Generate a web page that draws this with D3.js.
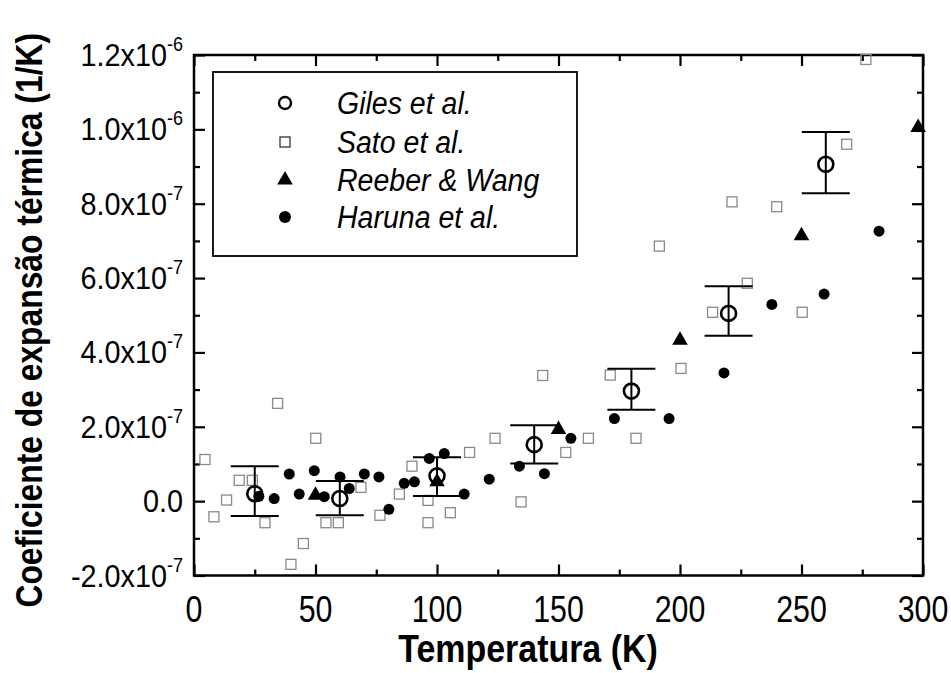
<!DOCTYPE html>
<html><head><meta charset="utf-8">
<script src="https://cdn.jsdelivr.net/npm/d3@7"></script>
<style>body{margin:0;background:#fff}svg{display:block}</style>
</head><body>
<svg id="c" width="951" height="673"></svg>
<script>
// ---- data (values in units of 1e-7 1/K) ----
const gilesT  = [25, 60, 100, 140, 180, 220, 260];
const gilesV  = [0.20, 0.07, 0.68, 1.52, 2.96, 5.05, 9.06];
const gilesHi = [0.94, 0.54, 1.18, 2.04, 3.56, 5.78, 9.93];
const gilesLo = [-0.40, -0.38, 0.14, 1.01, 2.46, 4.45, 8.28];

const satoT = [4.5, 8.2, 13.4, 18.6, 24, 29.2, 34.4, 39.9, 45, 50.1, 54.3, 59.4, 68.7, 76.5, 84.5, 89.7, 96.3, 96.3, 105.5, 113.4, 123.9, 134.6, 143.5, 153, 162.3, 171.3, 181.9, 191.5, 200.4, 213.4, 221.4, 227.7, 239.8, 250.3, 268.6, 276.5];
const satoV = [1.12, -0.42, 0.03, 0.56, 0.56, -0.58, 2.63, -1.70, -1.14, 1.69, -0.58, -0.58, 0.37, -0.38, 0.19, 0.94, 0.02, -0.58, -0.31, 1.31, 1.69, -0.02, 3.38, 1.31, 1.69, 3.39, 1.69, 6.86, 3.57, 5.08, 8.05, 5.86, 7.92, 5.08, 9.6, 11.88];

const reeberT = [50, 100, 150, 200, 250, 298];
const reeberV = [0.16, 0.52, 1.93, 4.33, 7.14, 10.05];

const harunaT = [26.7, 33, 39.2, 43.3, 49.5, 53.6, 60.1, 63.9, 70.1, 76.1, 80.2, 86.5, 90.7, 96.8, 103, 111.2, 121.5, 133.9, 144.2, 155.1, 173, 195.5, 218.1, 237.8, 259.3, 281.9];
const harunaV = [0.13, 0.07, 0.73, 0.19, 0.82, 0.12, 0.65, 0.34, 0.73, 0.65, -0.22, 0.48, 0.52, 1.15, 1.28, 0.19, 0.59, 0.94, 0.74, 1.69, 2.22, 2.22, 3.45, 5.29, 5.57, 7.26];

const xTicks = [0, 50, 100, 150, 200, 250, 300];
const yTicks = [-2, 0, 2, 4, 6, 8, 10, 12];
const yTickLabels = [["-2.0x10", "-7"], ["0.0", ""], ["2.0x10", "-7"], ["4.0x10", "-7"], ["6.0x10", "-7"], ["8.0x10", "-7"], ["1.0x10", "-6"], ["1.2x10", "-6"]];
const legendNames = ["Giles et al.", "Sato et al.", "Reeber & Wang", "Haruna et al."];
const xTitle = "Temperatura (K)";
const yTitle = "Coeficiente de expansão térmica (1/K)";

// ---- layout ----
const L = 194, R = 923, T = 55, B = 575.5;
const svg = d3.select("#c");
const x = d3.scaleLinear().domain([0, 300]).range([L, R]);
const y = d3.scaleLinear().domain([-2, 12]).range([B, T]);
const FONT = "'Liberation Sans', Arial, sans-serif";

// ticks (inward on all four sides)
const g = svg.append("g");
function ticks(axisGen, tr) {
  const a = g.append("g").attr("transform", tr).call(axisGen);
  a.select(".domain").remove();
  a.selectAll("line").attr("stroke", "#000").attr("stroke-width", 2.2);
  a.selectAll("text").remove();
}
const xMinor = d3.range(25, 300, 50);
const yMinor = d3.range(-1, 12, 2);
ticks(d3.axisBottom(x).tickValues(xTicks).tickSize(-11), `translate(0,${B})`);
ticks(d3.axisBottom(x).tickValues(xMinor).tickSize(-6), `translate(0,${B})`);
ticks(d3.axisTop(x).tickValues(xTicks).tickSize(-11), `translate(0,${T})`);
ticks(d3.axisTop(x).tickValues(xMinor).tickSize(-6), `translate(0,${T})`);
ticks(d3.axisLeft(y).tickValues(yTicks).tickSize(-11), `translate(${L},0)`);
ticks(d3.axisLeft(y).tickValues(yMinor).tickSize(-6), `translate(${L},0)`);
ticks(d3.axisRight(y).tickValues(yTicks).tickSize(-11), `translate(${R},0)`);
ticks(d3.axisRight(y).tickValues(yMinor).tickSize(-6), `translate(${R},0)`);

// frame
svg.append("rect").attr("x", L).attr("y", T).attr("width", R - L).attr("height", B - T)
  .attr("fill", "none").attr("stroke", "#000").attr("stroke-width", 2.5);

// x tick labels
svg.append("g").selectAll("text").data(xTicks).join("text")
  .attr("transform", d => `translate(${x(d)},${B + 46}) scale(0.82,1)`)
  .attr("text-anchor", "middle").attr("font-family", FONT).attr("font-size", 37)
  .text(d => d);

// y tick labels
const yl = svg.append("g").selectAll("text").data(yTicks).join("text")
  .attr("transform", d => `translate(${L - 11},${y(d) + 11}) scale(0.9,1)`)
  .attr("text-anchor", "end").attr("font-family", FONT).attr("font-size", 32);
yl.append("tspan").text((d, i) => yTickLabels[i][0]);
yl.append("tspan").attr("font-size", 20).attr("dy", -15).text((d, i) => yTickLabels[i][1]);

// axis titles
svg.append("text").attr("transform", `translate(528,662) scale(0.87,1)`)
  .attr("text-anchor", "middle").attr("font-family", FONT).attr("font-weight", "bold")
  .attr("font-size", 39).text(xTitle);
svg.append("text").attr("transform", `translate(42,${(T + B) / 2 + 5}) rotate(-90) scale(0.86,1)`)
  .attr("text-anchor", "middle").attr("font-family", FONT).attr("font-weight", "bold")
  .attr("font-size", 37).text(yTitle);

// ---- marks ----
const plot = svg.append("g");
const tri = d3.symbol().type(d3.symbolTriangle).size(105);

// Sato squares
plot.append("g").selectAll("rect").data(satoT.map((t, i) => [t, satoV[i]])).join("rect")
  .attr("x", d => x(d[0]) - 5).attr("y", d => y(d[1]) - 5).attr("width", 10).attr("height", 10)
  .attr("fill", "none").attr("stroke", "#8a8a8a").attr("stroke-width", 1.3);

// Haruna filled circles
plot.append("g").selectAll("circle").data(harunaT.map((t, i) => [t, harunaV[i]])).join("circle")
  .attr("cx", d => x(d[0])).attr("cy", d => y(d[1])).attr("r", 5.5).attr("fill", "#000");

// Reeber triangles
plot.append("g").selectAll("path").data(reeberT.map((t, i) => [t, reeberV[i]])).join("path")
  .attr("transform", d => `translate(${x(d[0])},${y(d[1])})`).attr("d", tri).attr("fill", "#000");

// Giles with error bars
const gd = gilesT.map((t, i) => ({t, v: gilesV[i], hi: gilesHi[i], lo: gilesLo[i]}));
const eb = plot.append("g").attr("stroke", "#000").attr("stroke-width", 2);
eb.selectAll(".v").data(gd).join("line").attr("x1", d => x(d.t)).attr("x2", d => x(d.t))
  .attr("y1", d => y(d.hi)).attr("y2", d => y(d.lo));
eb.selectAll(".h").data(gd).join("line").attr("x1", d => x(d.t) - 24).attr("x2", d => x(d.t) + 24)
  .attr("y1", d => y(d.hi)).attr("y2", d => y(d.hi));
eb.selectAll(".l").data(gd).join("line").attr("x1", d => x(d.t) - 24).attr("x2", d => x(d.t) + 24)
  .attr("y1", d => y(d.lo)).attr("y2", d => y(d.lo));
plot.append("g").selectAll("circle").data(gd).join("circle")
  .attr("cx", d => x(d.t)).attr("cy", d => y(d.v)).attr("r", 7.5)
  .attr("fill", "none").attr("stroke", "#000").attr("stroke-width", 2.6);

// ---- legend ----
const lg = svg.append("g");
lg.append("rect").attr("x", 213).attr("y", 72).attr("width", 364).attr("height", 184)
  .attr("fill", "#fff").attr("stroke", "#000").attr("stroke-width", 1.8);
const rows = [103, 142, 180, 217];
const sx = 285;
lg.append("circle").attr("cx", sx).attr("cy", rows[0]).attr("r", 6).attr("fill", "none").attr("stroke", "#000").attr("stroke-width", 2.4);
lg.append("rect").attr("x", sx - 5).attr("y", rows[1] - 5).attr("width", 10).attr("height", 10).attr("fill", "none").attr("stroke", "#333").attr("stroke-width", 1.3);
lg.append("path").attr("transform", `translate(${sx},${rows[2]})`).attr("d", tri).attr("fill", "#000");
lg.append("circle").attr("cx", sx).attr("cy", rows[3]).attr("r", 6).attr("fill", "#000");
lg.selectAll("text").data(legendNames).join("text")
  .attr("transform", (d, i) => `translate(337,${rows[i] + 11}) scale(0.92,1)`)
  .attr("font-family", FONT).attr("font-style", "italic").attr("font-size", 31)
  .text(d => d);
</script>
</body></html>
